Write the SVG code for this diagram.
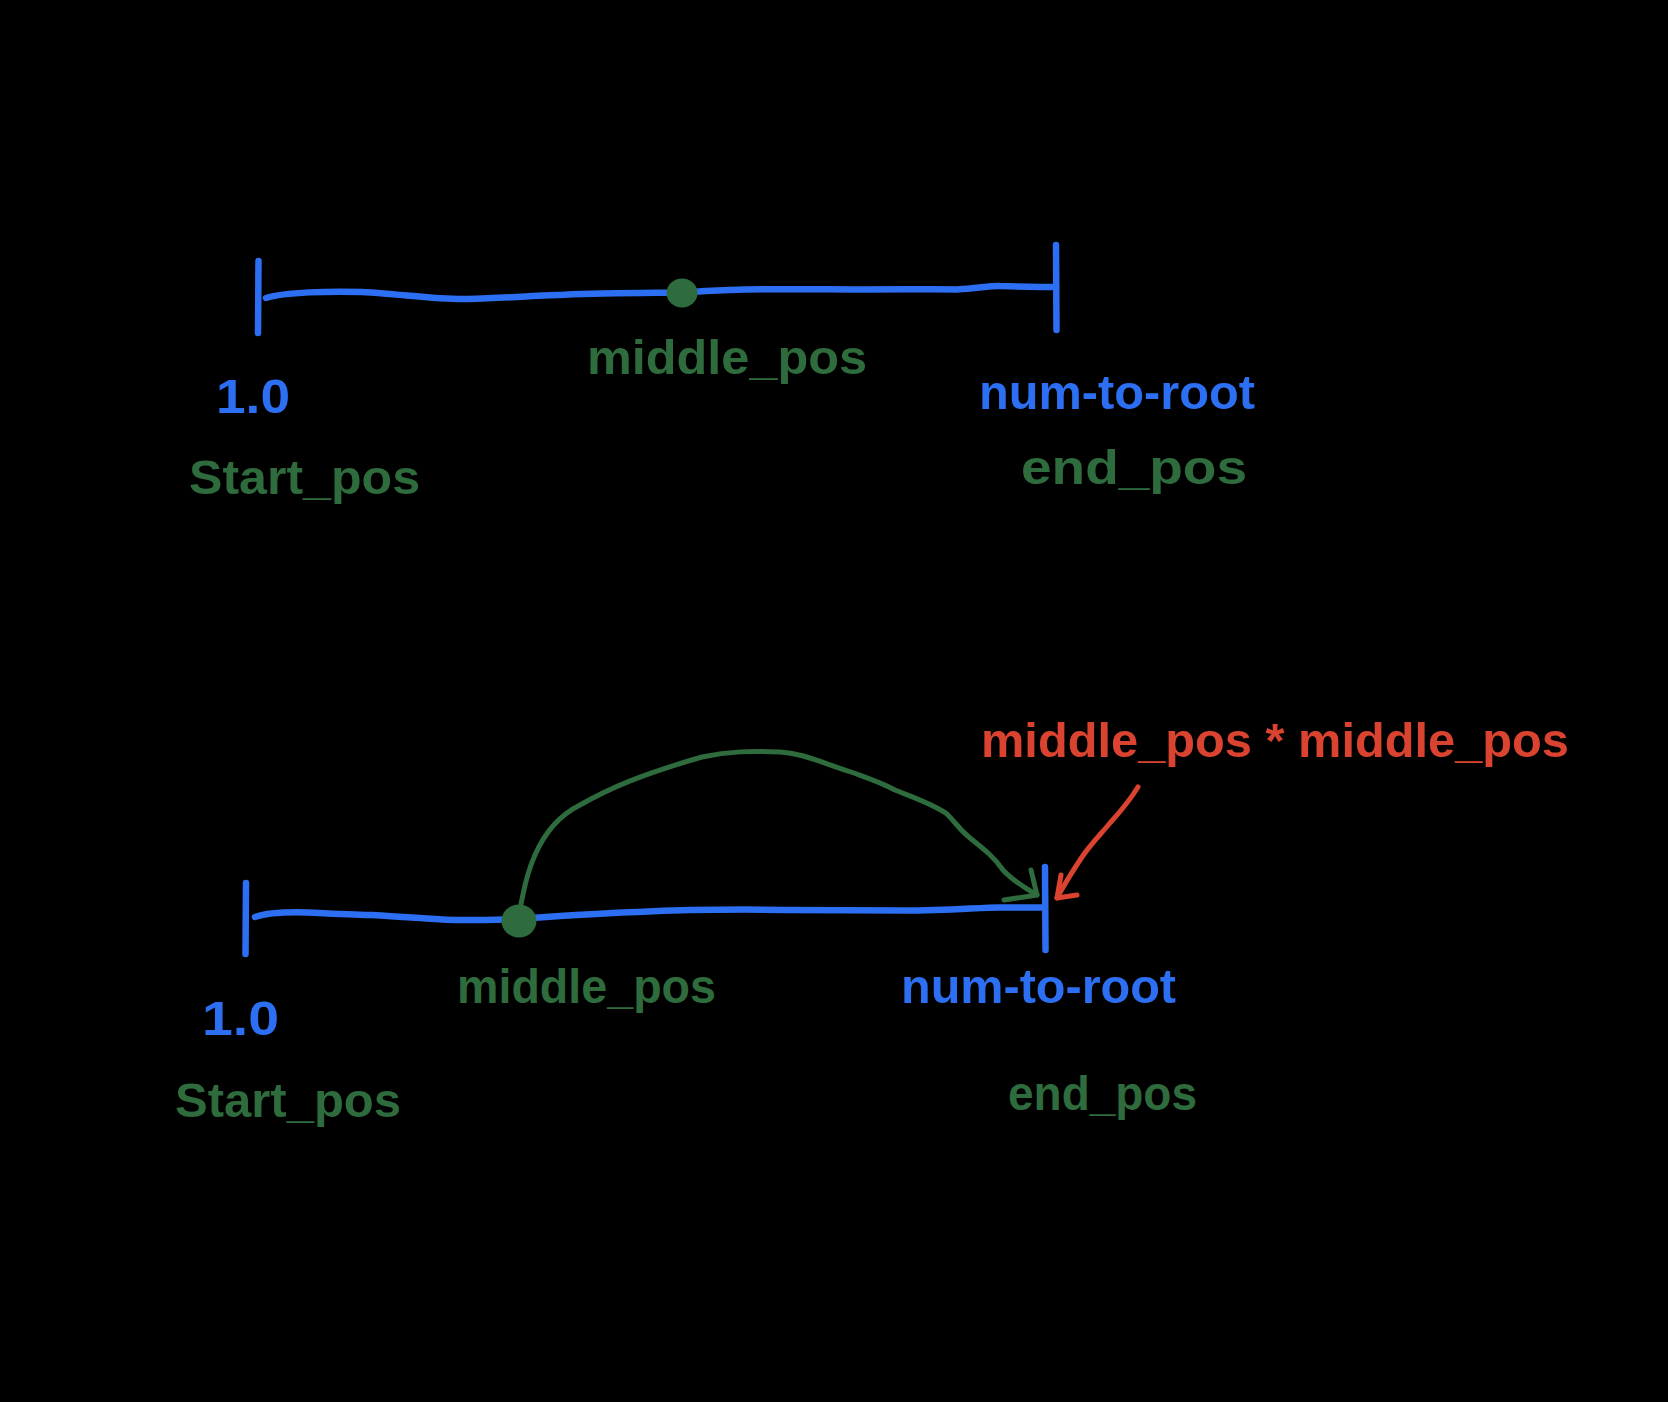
<svg xmlns="http://www.w3.org/2000/svg" width="1668" height="1402" viewBox="0 0 1668 1402">
<style>
.bl{fill:none;stroke:#2d6ff2;stroke-width:6.5;stroke-linecap:round;stroke-linejoin:round}
.gr{fill:none;stroke:#2e6b3d;stroke-width:5;stroke-linecap:round;stroke-linejoin:round}
.rd{fill:none;stroke:#d9432f;stroke-width:5;stroke-linecap:round;stroke-linejoin:round}
text{font-family:"Liberation Sans","DejaVu Sans",sans-serif;font-size:48px;font-weight:bold}
.tb{fill:#2d6ff2}
.tg{fill:#2e6b3d}
.tr{fill:#d9432f}
</style>
<rect x="0" y="0" width="1668" height="1402" fill="#000"/>
<g id="top-axis">
<path class="bl" d="M258.5 261 L258 333"/>
<path class="bl" d="M1056 245 L1056.5 330"/>
<path class="bl" d="M266 298 C285 292 330 291 362 292 C400 294 440 300 468 299 C510 298 540 295 564 294.7 C610 293 650 293 682 292.5 C710 291 725 289.5 745 289.4 C790 289 830 289.4 851 289.4 C900 289.5 940 289 957 289.4 C975 289 990 285.5 1000 286 C1020 286.5 1040 287 1056 287"/>
</g>
<g id="top-middle">
<ellipse cx="682" cy="293" rx="15.5" ry="14.5" fill="#2e6b3d"/>
<text class="tg" x="587" y="374" textLength="280" lengthAdjust="spacingAndGlyphs">middle_pos</text>
</g>
<g id="top-start">
<text class="tb" x="216" y="413" font-size="52" textLength="74" lengthAdjust="spacingAndGlyphs">1.0</text>
<text class="tg" x="189" y="494" textLength="231" lengthAdjust="spacingAndGlyphs">Start_pos</text>
</g>
<g id="top-end">
<text class="tb" x="979" y="409" textLength="276" lengthAdjust="spacingAndGlyphs">num-to-root</text>
<text class="tg" x="1021" y="484" textLength="226" lengthAdjust="spacingAndGlyphs">end_pos</text>
</g>
<g id="bottom-axis">
<path class="bl" d="M246 883 L245.5 954"/>
<path class="bl" d="M1045 867 L1045.5 950"/>
<path class="bl" d="M255 917 C270 912 300 912 319 913 C340 914 360 915 372 915 C410 917 440 920 457 920 C480 920.5 500 919.5 519 919 C560 916 600 913 638 912 C680 910 710 909.6 745 909.6 C800 910 860 910.6 904 910.6 C950 910.5 980 907.4 1000 907.4 C1015 907.4 1030 907.4 1042 907.4"/>
</g>
<g id="bottom-middle">
<ellipse cx="519" cy="921" rx="17.5" ry="16.5" fill="#2e6b3d"/>
<text class="tg" x="457" y="1003" textLength="259" lengthAdjust="spacingAndGlyphs">middle_pos</text>
</g>
<g id="bottom-start">
<text class="tb" x="202" y="1035" font-size="52" textLength="77" lengthAdjust="spacingAndGlyphs">1.0</text>
<text class="tg" x="175" y="1117" textLength="226" lengthAdjust="spacingAndGlyphs">Start_pos</text>
</g>
<g id="bottom-end">
<text class="tb" x="901" y="1003" textLength="275" lengthAdjust="spacingAndGlyphs">num-to-root</text>
<text class="tg" x="1008" y="1110" textLength="189" lengthAdjust="spacingAndGlyphs">end_pos</text>
</g>
<g id="square-label">
<text class="tr" x="981" y="757" font-size="52" textLength="588" lengthAdjust="spacingAndGlyphs">middle_pos * middle_pos</text>
</g>
<g id="connectors">
<path class="gr" d="M521 904 C524 890 526 875 535 855 C545 832 560 815 580 805 C610 788 640 775 702 757 C730 751 750 751 780 752 C800 753 815 760 851 772 C870 779 880 782 895 790 C915 798 935 805 947 814 C955 822 960 830 970 838 C985 850 995 858 1003 870 C1012 880 1025 888 1037 895"/>
<path class="gr" d="M1031 870 L1037 895 L1004 900"/>
<path class="rd" d="M1138 787 C1130 800 1120 812 1110 823 C1100 835 1090 845 1082 857 C1072 872 1064 885 1057 898"/>
<path class="rd" d="M1061 875 L1057 898 L1077 895"/>
</g>
</svg>
